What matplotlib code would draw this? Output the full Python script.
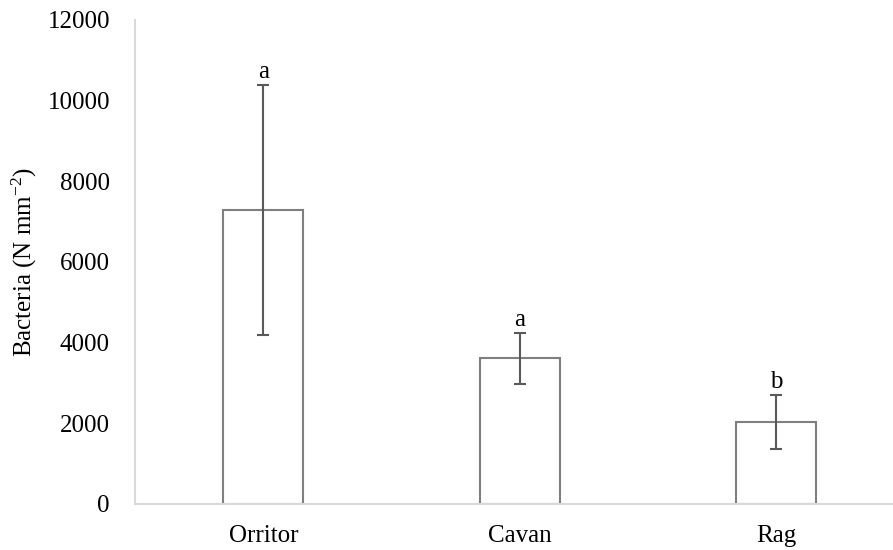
import matplotlib as mpl
mpl.use('Agg')
import matplotlib.pyplot as plt
import numpy as np

# data
sites = ['Orritor', 'Cavan', 'Rag']
means = [7300, 3610, 2030]
errors = [3100, 630, 670]
letters = ['a', 'a', 'b']

plt.rcParams['font.family'] = ['Liberation Serif', 'DejaVu Serif']
plt.rcParams['mathtext.default'] = 'regular'

fig = plt.figure(figsize=(8.93, 5.50), dpi=100)
ax = fig.add_axes([135 / 893, 46 / 550, 769.5 / 893, 484 / 550])

x = np.arange(len(sites))
ax.bar(x, means, width=0.312, color='white', edgecolor='#7f7f7f', linewidth=1.5)
ax.errorbar(x, means, yerr=errors, fmt='none', ecolor='#595959',
            elinewidth=1.5, capsize=4.5, capthick=1.5)

for xi, m, e, lab in zip(x, means, errors, letters):
    ax.text(xi, m + e + 40, lab, ha='center', va='bottom', fontsize=18)

ax.set_xlim(-0.5, 2.5)
ax.set_ylim(0, 12000)
ax.set_yticks(np.arange(0, 12001, 2000))
ax.set_xticks(x)
ax.set_xticklabels(sites)
ax.tick_params(length=0, labelsize=18)
ax.tick_params(axis='y', pad=18)
ax.tick_params(axis='x', pad=15)

for s in ['top', 'right']:
    ax.spines[s].set_visible(False)
for s in ['left', 'bottom']:
    ax.spines[s].set_color('#d9d9d9')
    ax.spines[s].set_linewidth(1.5)

ax.set_ylabel('Bacteria (N mm$^{-2}$)', fontsize=18)
ax.yaxis.set_label_coords(-96 / 769.5, 0.5)

fig.savefig('out.png', dpi=100)
